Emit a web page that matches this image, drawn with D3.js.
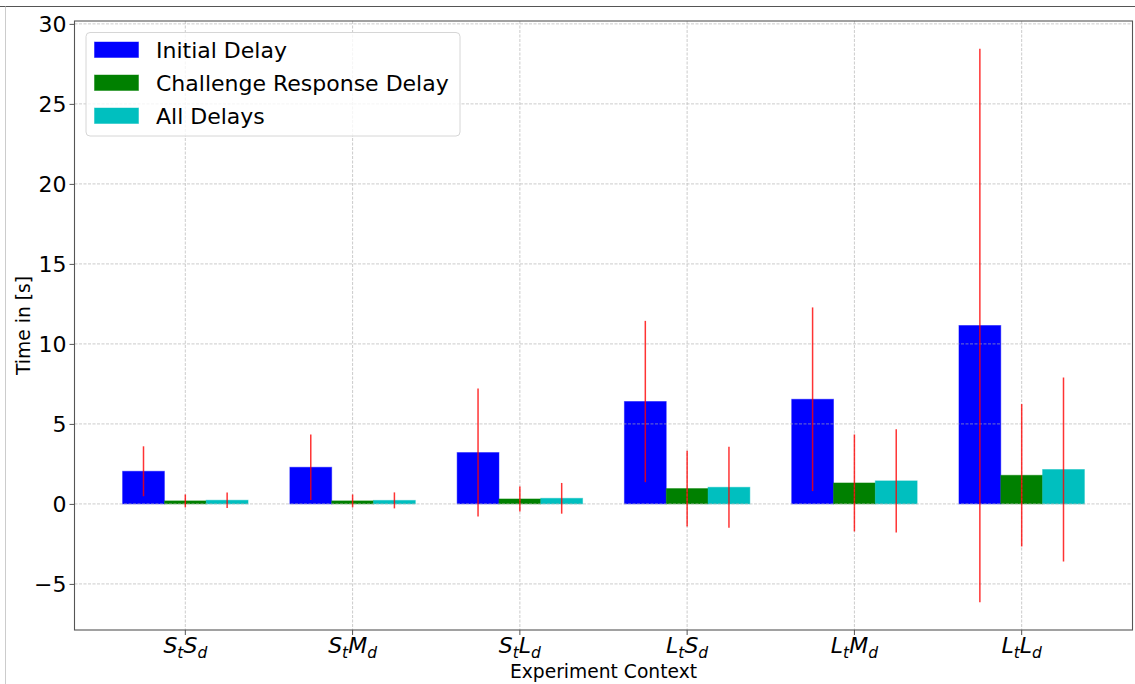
<!DOCTYPE html>
<html>
<head>
<meta charset="utf-8">
<script src="https://cdn.jsdelivr.net/npm/d3@7"></script>
<style>
  html, body { margin: 0; padding: 0; background: #fff; }
  svg { display: block; font-family: "DejaVu Sans", sans-serif; }
</style>
</head>
<body>
<svg id="chart" width="1135" height="684"></svg>
<script>
// Experiment contexts (t = task size, d = data size), written as mathtext-like strings
const contextLabels = ["S_tS_d", "S_tM_d", "S_tL_d", "L_tS_d", "L_tM_d", "L_tL_d"];

// Mean delays in seconds and their standard deviations
const initialDelay      = [2.04, 2.29, 3.21, 6.40, 6.54, 11.15];
const initialDelayStd   = [1.56, 2.05, 4.00, 5.04, 5.74, 17.30];
const challengeDelay    = [0.19, 0.19, 0.31, 0.96, 1.31, 1.79];
const challengeDelayStd = [0.40, 0.40, 0.78, 2.37, 3.03, 4.45];
const allDelays         = [0.23, 0.22, 0.35, 1.04, 1.44, 2.15];
const allDelaysStd      = [0.48, 0.50, 0.96, 2.53, 3.22, 5.75];

const seriesNames  = ["Initial Delay", "Challenge Response Delay", "All Delays"];
const seriesColors = ["#0000ff", "#008000", "#00bfbf"];
const yTicks = [-5, 0, 5, 10, 15, 20, 25, 30];

const series = [
  { name: seriesNames[0], color: seriesColors[0], values: initialDelay,   errors: initialDelayStd,   offset: -1 },
  { name: seriesNames[1], color: seriesColors[1], values: challengeDelay, errors: challengeDelayStd, offset: 0 },
  { name: seriesNames[2], color: seriesColors[2], values: allDelays,      errors: allDelaysStd,      offset: 1 }
];

const svg = d3.select("#chart");
const plot = { left: 74.5, right: 1132.5, top: 21, bottom: 630 };
const barWidth = 0.25;

// figure frame edges
svg.append("line").attr("x1", 0).attr("x2", 1135).attr("y1", 6.5).attr("y2", 6.5)
  .attr("stroke", "#555").attr("stroke-width", 1);
svg.append("line").attr("x1", 5.5).attr("x2", 5.5).attr("y1", 6.5).attr("y2", 684)
  .attr("stroke", "#ccc").attr("stroke-width", 1);

// x extent: bars span [-0.375, n-1+0.375], padded by 5%
const n = contextLabels.length;
const xLo = -1.5 * barWidth, xHi = n - 1 + 1.5 * barWidth;
const xPad = (xHi - xLo) * 0.05;
const x = d3.scaleLinear().domain([xLo - xPad, xHi + xPad]).range([plot.left, plot.right]);

let yLo = 0, yHi = 0;
series.forEach(s => s.values.forEach((v, i) => {
  yLo = Math.min(yLo, v - s.errors[i]);
  yHi = Math.max(yHi, v + s.errors[i]);
}));
const yPad = (yHi - yLo) * 0.05;
const y = d3.scaleLinear().domain([yLo - yPad, yHi + yPad]).range([plot.bottom, plot.top]);

// bars
series.forEach(s => {
  svg.append("g").selectAll("rect").data(s.values).join("rect")
    .attr("x", (d, i) => x(i + s.offset * barWidth - barWidth / 2))
    .attr("width", (d, i) => x(i + s.offset * barWidth + barWidth / 2) - x(i + s.offset * barWidth - barWidth / 2))
    .attr("y", d => y(Math.max(0, d)))
    .attr("height", d => Math.abs(y(d) - y(0)))
    .attr("fill", s.color)
    .attr("stroke", s.color)
    .attr("stroke-opacity", 0.45)
    .attr("stroke-width", 1);
});

// grid (drawn over bars, under error bars)
const grid = svg.append("g").attr("stroke", "#b0b0b0").attr("stroke-width", 0.8)
  .attr("stroke-dasharray", "3,1.5").attr("opacity", 0.8);
grid.selectAll(".gy").data(yTicks).join("line")
  .attr("x1", plot.left).attr("x2", plot.right)
  .attr("y1", d => y(d)).attr("y2", d => y(d));
grid.selectAll(".gx").data(contextLabels).join("line")
  .attr("x1", (d, i) => x(i)).attr("x2", (d, i) => x(i))
  .attr("y1", plot.top).attr("y2", plot.bottom);

// error bars
series.forEach(s => {
  svg.append("g").selectAll("line").data(s.values).join("line")
    .attr("x1", (d, i) => x(i + s.offset * barWidth))
    .attr("x2", (d, i) => x(i + s.offset * barWidth))
    .attr("y1", (d, i) => y(d + s.errors[i]))
    .attr("y2", (d, i) => y(d - s.errors[i]))
    .attr("stroke", "#ff0000")
    .attr("stroke-opacity", 0.8)
    .attr("stroke-width", 1.5);
});

// axes frame
svg.append("rect")
  .attr("x", plot.left).attr("y", plot.top)
  .attr("width", plot.right - plot.left).attr("height", plot.bottom - plot.top)
  .attr("fill", "none").attr("stroke", "#555").attr("stroke-width", 1.1);

// y axis
const yAxis = d3.axisLeft(y).tickValues(yTicks).tickSize(5).tickPadding(3)
  .tickFormat(d => d < 0 ? "\u2212" + Math.abs(d) : String(d));
const gy = svg.append("g").attr("transform", `translate(${plot.left},0)`).call(yAxis);
gy.select(".domain").remove();
gy.selectAll(".tick line").attr("stroke", "#555").attr("stroke-width", 1);
gy.selectAll(".tick text").attr("font-size", 22).attr("fill", "#000")
  .attr("font-family", "DejaVu Sans").attr("dy", "0.36em");

// x axis with subscripted category labels
const gx = svg.append("g");
contextLabels.forEach((lab, i) => {
  const cx = x(i);
  gx.append("line").attr("x1", cx).attr("x2", cx)
    .attr("y1", plot.bottom).attr("y2", plot.bottom + 5)
    .attr("stroke", "#555").attr("stroke-width", 1);
  const t = gx.append("text").attr("x", cx).attr("y", 653)
    .attr("text-anchor", "middle").attr("font-size", 22)
    .attr("font-style", "italic").attr("fill", "#000");
  const parts = [...lab.matchAll(/([A-Z])_([a-z])/g)];
  parts.forEach(p => {
    t.append("tspan").attr("dy", p === parts[0] ? 0 : -5).text(p[1]);
    t.append("tspan").attr("font-size", 15.5).attr("dy", 5).text(p[2]);
  });
});

// axis titles
svg.append("text").attr("x", (plot.left + plot.right) / 2).attr("y", 677.5)
  .attr("text-anchor", "middle").attr("font-size", 18.7).attr("fill", "#000")
  .text("Experiment Context");
svg.append("text")
  .attr("transform", `translate(29.5,${(plot.top + plot.bottom) / 2}) rotate(-90)`)
  .attr("text-anchor", "middle").attr("font-size", 18.7).attr("fill", "#000")
  .text("Time in [s]");

// legend
const legend = svg.append("g");
legend.append("rect").attr("x", 86).attr("y", 32.5).attr("width", 374).attr("height", 103.5)
  .attr("rx", 4).attr("fill", "#fff").attr("fill-opacity", 0.8)
  .attr("stroke", "#d6d6d6").attr("stroke-width", 1);
series.forEach((s, k) => {
  const cy = 49.5 + k * 33;
  legend.append("rect").attr("x", 94.5).attr("y", cy - 7.5).attr("width", 44).attr("height", 15.5)
    .attr("fill", s.color).attr("stroke", s.color).attr("stroke-opacity", 0.45);
  legend.append("text").attr("x", 156).attr("y", cy + 8).attr("font-size", 22)
    .attr("fill", "#000").text(s.name);
});
</script>
</body>
</html>
